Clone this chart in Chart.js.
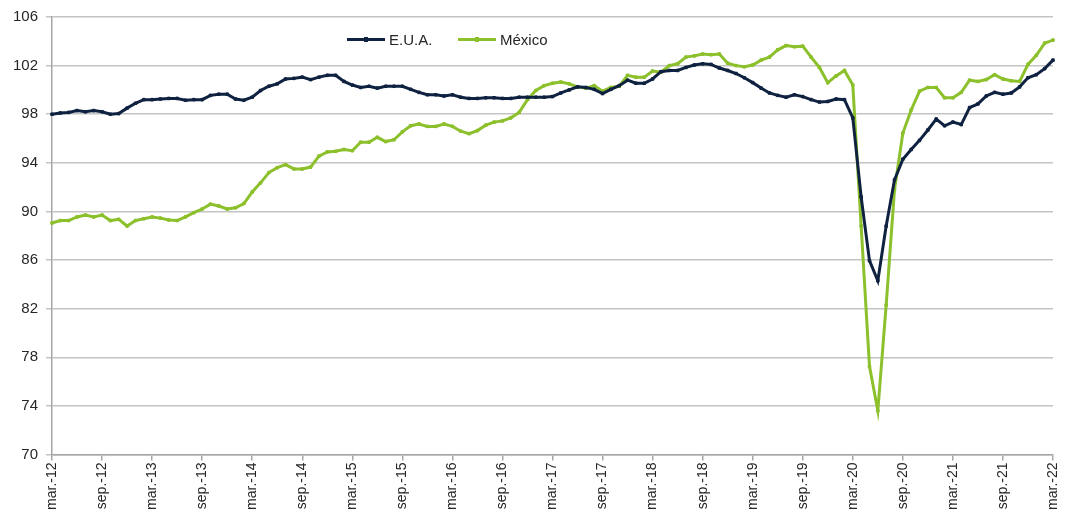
<!DOCTYPE html>
<html>
<head>
<meta charset="utf-8">
<script src="https://cdn.jsdelivr.net/npm/chart.js@4"></script>
<style>
  body { margin: 0; background: #fff; }
  #wrap { position: relative; width: 1073px; height: 516px; }
  .legend { position: absolute; top: 31px; font: 15px "Liberation Sans", Arial, sans-serif; color: #262626; display: flex; align-items: center; }
  .legend .line { position: relative; display: inline-block; width: 38px; height: 3px; margin-right: 4px; }
  .legend .line i { position: absolute; left: 17px; top: -1px; width: 4px; height: 5px; }
</style>
</head>
<body>
<div id="wrap">
  <canvas id="chart" width="1073" height="516"></canvas>
  <div class="legend" style="left:347px"><span class="line" style="background:#0f2240"><i style="background:#0f2240"></i></span>E.U.A.</div>
  <div class="legend" style="left:458px"><span class="line" style="background:#8cc02c"><i style="background:#8cc02c"></i></span>México</div>
</div>
<script>
// month names for the category axis (mar-12 .. mar-22)
const monthNames = ["ene.", "feb.", "mar.", "abr.", "may.", "jun.", "jul.", "ago.", "sep.", "oct.", "nov.", "dic."];
const firstYear = 2012;
const firstMonth = 2; // march
const monthCount = 121;

const eua = [
  98.0, 98.1, 98.15, 98.3, 98.2, 98.3, 98.2, 98.0, 98.05, 98.5,
  98.9, 99.2, 99.2, 99.25, 99.3, 99.3, 99.15, 99.2, 99.2, 99.55,
  99.65, 99.65, 99.25, 99.15, 99.4, 99.95, 100.3, 100.5, 100.9, 100.95,
  101.05, 100.85, 101.05, 101.2, 101.2, 100.7, 100.4, 100.2, 100.3, 100.15,
  100.3, 100.3, 100.3, 100.05, 99.8, 99.6, 99.6, 99.5, 99.6, 99.4,
  99.3, 99.3, 99.35, 99.35, 99.3, 99.3, 99.4, 99.4, 99.4, 99.4,
  99.45, 99.75, 100.0, 100.25, 100.2, 100.05, 99.7, 100.05, 100.35, 100.8,
  100.55, 100.55, 100.9, 101.5, 101.6, 101.6, 101.85, 102.05, 102.15, 102.1,
  101.8, 101.6, 101.35, 101.0, 100.6, 100.15, 99.75, 99.55, 99.4, 99.6,
  99.45, 99.2, 99.0, 99.05, 99.25, 99.2, 97.7, 91.2, 85.95, 84.3,
  88.8, 92.6, 94.3, 95.1, 95.85, 96.7, 97.6, 97.05, 97.35, 97.15,
  98.55, 98.85, 99.5, 99.8, 99.65, 99.75, 100.25, 101.0, 101.25, 101.75,
  102.45
];

const mexico = [
  89.05, 89.25, 89.25, 89.55, 89.7, 89.55, 89.7, 89.25, 89.35, 88.8,
  89.25, 89.4, 89.55, 89.45, 89.3, 89.25, 89.55, 89.9, 90.2, 90.6,
  90.45, 90.2, 90.3, 90.65, 91.6, 92.35, 93.2, 93.6, 93.85, 93.5,
  93.5, 93.65, 94.55, 94.9, 94.95, 95.1, 95.0, 95.7, 95.7, 96.1,
  95.75, 95.9, 96.55, 97.05, 97.2, 97.0, 97.0, 97.2, 97.0, 96.6,
  96.4, 96.65, 97.1, 97.35, 97.45, 97.7, 98.15, 99.2, 99.95, 100.35,
  100.55, 100.65, 100.5, 100.25, 100.15, 100.35, 99.9, 100.2, 100.3, 101.2,
  101.05, 101.05, 101.55, 101.45, 102.0, 102.15, 102.7, 102.8, 102.95, 102.9,
  102.95, 102.2, 102.0, 101.9, 102.05, 102.45, 102.7, 103.3, 103.65, 103.55,
  103.6, 102.7, 101.85, 100.6, 101.15, 101.6, 100.4, 88.8, 77.25, 73.6,
  82.3, 91.8, 96.45, 98.35, 99.9, 100.2, 100.2, 99.35, 99.35, 99.8,
  100.8, 100.7, 100.85, 101.25, 100.9, 100.75, 100.7, 102.1, 102.85, 103.85,
  104.1
];

const labels = [];
for (let i = 0; i < monthCount; i++) {
  const m = (firstMonth + i) % 12;
  const y = firstYear + Math.floor((firstMonth + i) / 12);
  labels.push(monthNames[m] + "-" + String(y).slice(2));
}

const tickFont = { family: "'Liberation Sans', Arial, sans-serif", size: 14 };

new Chart(document.getElementById("chart"), {
  type: "line",
  data: {
    labels: labels,
    datasets: [
      {
        label: "E.U.A.",
        data: eua,
        borderColor: "#0f2240",
        backgroundColor: "#0f2240",
        borderWidth: 3,
        pointStyle: "rect",
        pointRadius: 1.8,
        pointBorderWidth: 1,
        tension: 0
      },
      {
        label: "México",
        data: mexico,
        borderColor: "#8cc02c",
        backgroundColor: "#8cc02c",
        borderWidth: 3,
        pointStyle: "rect",
        pointRadius: 1.8,
        pointBorderWidth: 1,
        tension: 0
      }
    ]
  },
  options: {
    responsive: false,
    animation: false,
    layout: { padding: { top: 17, right: 20, left: 0, bottom: 0 } },
    plugins: {
      legend: { display: false },
      tooltip: { enabled: false }
    },
    scales: {
      x: {
        afterFit: (s) => { s.height = 61.5; },
        grid: { drawOnChartArea: false, drawTicks: true, tickLength: 6, color: "#a6a6a6", lineWidth: 1.5 },
        border: { color: "#a6a6a6", width: 1.5 },
        ticks: {
          autoSkip: false,
          minRotation: 90,
          maxRotation: 90,
          padding: 2,
          color: "#262626",
          font: tickFont,
          callback: function (v, i) { return i % 6 === 0 ? labels[i] : null; }
        }
      },
      y: {
        min: 70,
        max: 106,
        afterFit: (s) => { s.width = 52; },
        grid: { color: "#c4c4c4", lineWidth: 1.5, tickLength: 6 },
        border: { color: "#a6a6a6", width: 1.5 },
        ticks: { stepSize: 4, padding: 8, color: "#262626", font: { family: tickFont.family, size: 15 } }
      }
    }
  }
});
</script>
</body>
</html>
